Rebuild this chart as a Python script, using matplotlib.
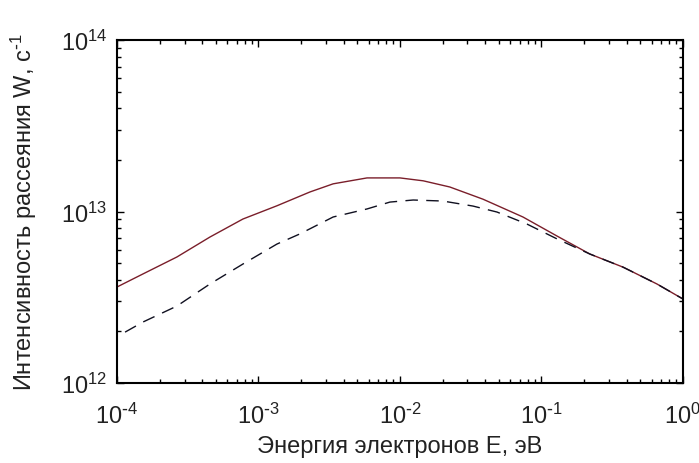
import matplotlib
matplotlib.use("Agg")
import matplotlib.pyplot as plt
from matplotlib.ticker import LogLocator, FuncFormatter, NullFormatter
import math

plt.rcParams['font.family'] = ['Liberation Sans', 'DejaVu Sans']
plt.rcParams['mathtext.default'] = 'regular'
plt.rcParams['axes.unicode_minus'] = False

# Data
energy_solid = [1.0e-4, 1.53e-4, 2.65e-4, 4.54e-4, 7.76e-4, 1.35e-3, 2.31e-3, 3.37e-3,
                5.85e-3, 1.0e-2, 1.46e-2, 2.25e-2, 3.86e-2, 7.4e-2, 0.129, 0.220,
                0.377, 0.655, 1.0]
w_solid = [3.63e12, 4.33e12, 5.43e12, 7.10e12, 9.04e12, 1.08e13, 1.30e13, 1.45e13,
           1.57e13, 1.57e13, 1.51e13, 1.39e13, 1.18e13, 9.29e12, 7.19e12, 5.65e12,
           4.74e12, 3.78e12, 3.09e12]

energy_dashed = [1.14e-4, 1.53e-4, 2.65e-4, 4.54e-4, 7.76e-4, 1.35e-3, 1.96e-3, 3.37e-3,
                 5.85e-3, 8.49e-3, 1.24e-2, 2.01e-2, 3.28e-2, 4.85e-2, 7.9e-2, 0.129,
                 0.220, 0.377, 0.655, 1.0]
w_dashed = [1.98e12, 2.27e12, 2.81e12, 3.78e12, 4.94e12, 6.46e12, 7.40e12, 9.29e12,
            1.035e13, 1.135e13, 1.167e13, 1.151e13, 1.076e13, 9.93e12, 8.45e12, 6.92e12,
            5.65e12, 4.74e12, 3.78e12, 3.09e12]

x_label = 'Энергия электронов Е, эВ'
y_label = 'Интенсивность рассеяния W, с$^{\\text{-}1}$'


def pow_label(v, pos):
    e = int(round(math.log10(v)))
    s = str(e).replace('-', '\\text{-}')
    return '10$^{' + s + '}$'


fig = plt.figure(figsize=(6.99, 4.64), dpi=100)
ax = fig.add_axes([0.1674, 0.1724, 0.8096, 0.7392])

ax.plot(energy_solid, w_solid, color='#7a1e2a', lw=1.0)
ax.plot(energy_dashed, w_dashed, color='#101020', lw=1.0, dashes=(9, 6))

ax.set_xscale('log')
ax.set_yscale('log')
ax.set_xlim(1e-4, 1.0)
ax.set_ylim(1e12, 1e14)

for axis in (ax.xaxis, ax.yaxis):
    axis.set_major_locator(LogLocator(base=10, numticks=10))
    axis.set_minor_locator(LogLocator(base=10, subs=range(2, 10), numticks=20))
    axis.set_major_formatter(FuncFormatter(pow_label))
    axis.set_minor_formatter(NullFormatter())

ax.tick_params(which='both', direction='in', top=True, right=True, color='black')
ax.tick_params(which='major', length=5, width=1.0, labelsize=17, labelcolor='#222222')
ax.tick_params(axis='x', which='major', pad=14)
ax.tick_params(axis='y', which='major', pad=7)
ax.tick_params(which='minor', length=3, width=1.0)
for s in ax.spines.values():
    s.set_linewidth(1.5)

ax.set_xlabel(x_label, fontsize=17, color='#222222', labelpad=5)
ax.set_ylabel(y_label, fontsize=17, color='#222222', labelpad=16)

fig.savefig('out.png', dpi=100)
